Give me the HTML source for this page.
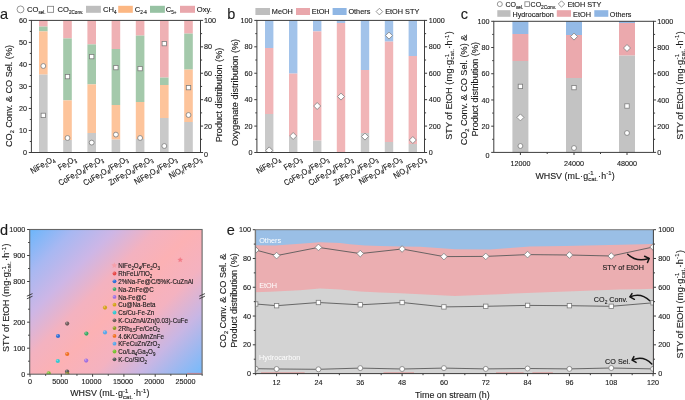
<!DOCTYPE html>
<html><head><meta charset="utf-8"><style>
html,body{margin:0;padding:0;background:#fff;width:685px;height:400px;overflow:hidden}
svg{display:block;font-family:"Liberation Sans", sans-serif;will-change:transform}
</style></head><body>
<svg width="685" height="400" viewBox="0 0 685 400">
<rect x="39.00" y="20.40" width="8.60" height="6.20" fill="#efb1b4" />
<rect x="39.00" y="26.60" width="8.60" height="4.80" fill="#a4c9ab" />
<rect x="39.00" y="31.40" width="8.60" height="43.20" fill="#fdc49b" />
<rect x="39.00" y="74.60" width="8.60" height="77.90" fill="#c9c9c9" />
<rect x="63.20" y="20.40" width="8.60" height="18.00" fill="#efb1b4" />
<rect x="63.20" y="38.40" width="8.60" height="62.00" fill="#a4c9ab" />
<rect x="63.20" y="100.40" width="8.60" height="39.60" fill="#fdc49b" />
<rect x="63.20" y="140.00" width="8.60" height="12.50" fill="#c9c9c9" />
<rect x="87.40" y="20.40" width="8.60" height="24.00" fill="#efb1b4" />
<rect x="87.40" y="44.40" width="8.60" height="40.00" fill="#a4c9ab" />
<rect x="87.40" y="84.40" width="8.60" height="48.60" fill="#fdc49b" />
<rect x="87.40" y="133.00" width="8.60" height="19.50" fill="#c9c9c9" />
<rect x="111.60" y="20.40" width="8.60" height="28.60" fill="#efb1b4" />
<rect x="111.60" y="49.00" width="8.60" height="56.00" fill="#a4c9ab" />
<rect x="111.60" y="105.00" width="8.60" height="34.60" fill="#fdc49b" />
<rect x="111.60" y="139.60" width="8.60" height="12.90" fill="#c9c9c9" />
<rect x="135.80" y="20.40" width="8.60" height="15.20" fill="#efb1b4" />
<rect x="135.80" y="35.60" width="8.60" height="66.40" fill="#a4c9ab" />
<rect x="135.80" y="102.00" width="8.60" height="37.00" fill="#fdc49b" />
<rect x="135.80" y="139.00" width="8.60" height="13.50" fill="#c9c9c9" />
<rect x="160.00" y="20.40" width="8.60" height="57.20" fill="#efb1b4" />
<rect x="160.00" y="77.60" width="8.60" height="7.40" fill="#a4c9ab" />
<rect x="160.00" y="85.00" width="8.60" height="33.00" fill="#fdc49b" />
<rect x="160.00" y="118.00" width="8.60" height="34.50" fill="#c9c9c9" />
<rect x="184.20" y="20.40" width="8.60" height="13.20" fill="#efb1b4" />
<rect x="184.20" y="33.60" width="8.60" height="36.00" fill="#a4c9ab" />
<rect x="184.20" y="69.60" width="8.60" height="52.40" fill="#fdc49b" />
<rect x="184.20" y="122.00" width="8.60" height="30.50" fill="#c9c9c9" />
<rect x="41.10" y="113.20" width="4.4" height="4.4" fill="#fff" stroke="#7c7c7c" stroke-width="0.8"/>
<circle cx="43.30" cy="66.00" r="2.45" fill="#fff" stroke="#7c7c7c" stroke-width="0.8"/>
<rect x="65.30" y="74.40" width="4.4" height="4.4" fill="#fff" stroke="#7c7c7c" stroke-width="0.8"/>
<circle cx="67.50" cy="138.00" r="2.45" fill="#fff" stroke="#7c7c7c" stroke-width="0.8"/>
<rect x="89.50" y="54.40" width="4.4" height="4.4" fill="#fff" stroke="#7c7c7c" stroke-width="0.8"/>
<circle cx="91.70" cy="142.60" r="2.45" fill="#fff" stroke="#7c7c7c" stroke-width="0.8"/>
<rect x="113.70" y="65.40" width="4.4" height="4.4" fill="#fff" stroke="#7c7c7c" stroke-width="0.8"/>
<circle cx="115.90" cy="134.60" r="2.45" fill="#fff" stroke="#7c7c7c" stroke-width="0.8"/>
<rect x="137.90" y="66.40" width="4.4" height="4.4" fill="#fff" stroke="#7c7c7c" stroke-width="0.8"/>
<circle cx="140.10" cy="138.00" r="2.45" fill="#fff" stroke="#7c7c7c" stroke-width="0.8"/>
<rect x="162.10" y="41.40" width="4.4" height="4.4" fill="#fff" stroke="#7c7c7c" stroke-width="0.8"/>
<circle cx="164.30" cy="146.00" r="2.45" fill="#fff" stroke="#7c7c7c" stroke-width="0.8"/>
<rect x="186.30" y="85.40" width="4.4" height="4.4" fill="#fff" stroke="#7c7c7c" stroke-width="0.8"/>
<circle cx="188.50" cy="115.00" r="2.45" fill="#fff" stroke="#7c7c7c" stroke-width="0.8"/>
<rect x="31.40" y="20.40" width="169.10" height="132.10" fill="none" stroke="#3d3d3d" stroke-width="1"/>
<line x1="31.40" y1="152.50" x2="28.80" y2="152.50" stroke="#3d3d3d" stroke-width="1" />
<text x="27.00" y="155.05" font-size="7.2" text-anchor="end" fill="#1c1c1c" stroke="#1c1c1c" stroke-width="0.13" >0</text>
<line x1="31.40" y1="141.49" x2="29.80" y2="141.49" stroke="#3d3d3d" stroke-width="1" />
<line x1="31.40" y1="130.48" x2="28.80" y2="130.48" stroke="#3d3d3d" stroke-width="1" />
<text x="27.00" y="133.03" font-size="7.2" text-anchor="end" fill="#1c1c1c" stroke="#1c1c1c" stroke-width="0.13" >10</text>
<line x1="31.40" y1="119.47" x2="29.80" y2="119.47" stroke="#3d3d3d" stroke-width="1" />
<line x1="31.40" y1="108.47" x2="28.80" y2="108.47" stroke="#3d3d3d" stroke-width="1" />
<text x="27.00" y="111.02" font-size="7.2" text-anchor="end" fill="#1c1c1c" stroke="#1c1c1c" stroke-width="0.13" >20</text>
<line x1="31.40" y1="97.46" x2="29.80" y2="97.46" stroke="#3d3d3d" stroke-width="1" />
<line x1="31.40" y1="86.45" x2="28.80" y2="86.45" stroke="#3d3d3d" stroke-width="1" />
<text x="27.00" y="89.00" font-size="7.2" text-anchor="end" fill="#1c1c1c" stroke="#1c1c1c" stroke-width="0.13" >30</text>
<line x1="31.40" y1="75.44" x2="29.80" y2="75.44" stroke="#3d3d3d" stroke-width="1" />
<line x1="31.40" y1="64.43" x2="28.80" y2="64.43" stroke="#3d3d3d" stroke-width="1" />
<text x="27.00" y="66.98" font-size="7.2" text-anchor="end" fill="#1c1c1c" stroke="#1c1c1c" stroke-width="0.13" >40</text>
<line x1="31.40" y1="53.42" x2="29.80" y2="53.42" stroke="#3d3d3d" stroke-width="1" />
<line x1="31.40" y1="42.42" x2="28.80" y2="42.42" stroke="#3d3d3d" stroke-width="1" />
<text x="27.00" y="44.97" font-size="7.2" text-anchor="end" fill="#1c1c1c" stroke="#1c1c1c" stroke-width="0.13" >50</text>
<line x1="31.40" y1="31.41" x2="29.80" y2="31.41" stroke="#3d3d3d" stroke-width="1" />
<line x1="31.40" y1="20.40" x2="28.80" y2="20.40" stroke="#3d3d3d" stroke-width="1" />
<text x="27.00" y="22.95" font-size="7.2" text-anchor="end" fill="#1c1c1c" stroke="#1c1c1c" stroke-width="0.13" >60</text>
<line x1="200.50" y1="152.50" x2="203.10" y2="152.50" stroke="#3d3d3d" stroke-width="1" />
<text x="204.10" y="157.45" font-size="7.2" text-anchor="start" fill="#1c1c1c" stroke="#1c1c1c" stroke-width="0.13" >0</text>
<line x1="200.50" y1="139.29" x2="202.10" y2="139.29" stroke="#3d3d3d" stroke-width="1" />
<line x1="200.50" y1="126.08" x2="203.10" y2="126.08" stroke="#3d3d3d" stroke-width="1" />
<text x="204.10" y="128.63" font-size="7.2" text-anchor="start" fill="#1c1c1c" stroke="#1c1c1c" stroke-width="0.13" >20</text>
<line x1="200.50" y1="112.87" x2="202.10" y2="112.87" stroke="#3d3d3d" stroke-width="1" />
<line x1="200.50" y1="99.66" x2="203.10" y2="99.66" stroke="#3d3d3d" stroke-width="1" />
<text x="204.10" y="102.21" font-size="7.2" text-anchor="start" fill="#1c1c1c" stroke="#1c1c1c" stroke-width="0.13" >40</text>
<line x1="200.50" y1="86.45" x2="202.10" y2="86.45" stroke="#3d3d3d" stroke-width="1" />
<line x1="200.50" y1="73.24" x2="203.10" y2="73.24" stroke="#3d3d3d" stroke-width="1" />
<text x="204.10" y="75.79" font-size="7.2" text-anchor="start" fill="#1c1c1c" stroke="#1c1c1c" stroke-width="0.13" >60</text>
<line x1="200.50" y1="60.03" x2="202.10" y2="60.03" stroke="#3d3d3d" stroke-width="1" />
<line x1="200.50" y1="46.82" x2="203.10" y2="46.82" stroke="#3d3d3d" stroke-width="1" />
<text x="204.10" y="49.37" font-size="7.2" text-anchor="start" fill="#1c1c1c" stroke="#1c1c1c" stroke-width="0.13" >80</text>
<line x1="200.50" y1="33.61" x2="202.10" y2="33.61" stroke="#3d3d3d" stroke-width="1" />
<line x1="200.50" y1="20.40" x2="203.10" y2="20.40" stroke="#3d3d3d" stroke-width="1" />
<text x="204.10" y="22.95" font-size="7.2" text-anchor="start" fill="#1c1c1c" stroke="#1c1c1c" stroke-width="0.13" >100</text>
<text transform="translate(11.55,96.0) rotate(-90) " font-size="9.1" text-anchor="middle" fill="#1c1c1c" stroke="#1c1c1c" stroke-width="0.13">CO<tspan dy="2" font-size="5.6">2</tspan><tspan dy="-2"> Conv. &amp; CO Sel. (%)</tspan></text>
<text transform="translate(222.05,95.0) rotate(-90) " font-size="9.1" text-anchor="middle" fill="#1c1c1c" stroke="#1c1c1c" stroke-width="0.13">Product distribution (%)</text>
<text transform="translate(55.10,160.6) rotate(-30.5) scale(1,1.17)" font-size="7.15" text-anchor="end" fill="#1c1c1c" stroke="#1c1c1c" stroke-width="0.13">NiFe<tspan dy="1.6" font-size="5.0">2</tspan><tspan dy="-1.6">O</tspan><tspan dy="1.6" font-size="5.0">4</tspan><tspan dy="-1.6"></tspan></text>
<text transform="translate(76.80,160.6) rotate(-30.5) scale(1,1.17)" font-size="7.15" text-anchor="end" fill="#1c1c1c" stroke="#1c1c1c" stroke-width="0.13">Fe<tspan dy="1.6" font-size="5.0">2</tspan><tspan dy="-1.6">O</tspan><tspan dy="1.6" font-size="5.0">3</tspan><tspan dy="-1.6"></tspan></text>
<text transform="translate(103.60,160.6) rotate(-30.5) scale(1,1.17)" font-size="7.15" text-anchor="end" fill="#1c1c1c" stroke="#1c1c1c" stroke-width="0.13">CoFe<tspan dy="1.6" font-size="5.0">2</tspan><tspan dy="-1.6">O</tspan><tspan dy="1.6" font-size="5.0">4</tspan><tspan dy="-1.6">/Fe</tspan><tspan dy="1.6" font-size="5.0">2</tspan><tspan dy="-1.6">O</tspan><tspan dy="1.6" font-size="5.0">3</tspan><tspan dy="-1.6"></tspan></text>
<text transform="translate(128.40,160.6) rotate(-30.5) scale(1,1.17)" font-size="7.15" text-anchor="end" fill="#1c1c1c" stroke="#1c1c1c" stroke-width="0.13">CuFe<tspan dy="1.6" font-size="5.0">2</tspan><tspan dy="-1.6">O</tspan><tspan dy="1.6" font-size="5.0">4</tspan><tspan dy="-1.6">/Fe</tspan><tspan dy="1.6" font-size="5.0">2</tspan><tspan dy="-1.6">O</tspan><tspan dy="1.6" font-size="5.0">3</tspan><tspan dy="-1.6"></tspan></text>
<text transform="translate(153.20,160.6) rotate(-30.5) scale(1,1.17)" font-size="7.15" text-anchor="end" fill="#1c1c1c" stroke="#1c1c1c" stroke-width="0.13">ZnFe<tspan dy="1.6" font-size="5.0">2</tspan><tspan dy="-1.6">O</tspan><tspan dy="1.6" font-size="5.0">4</tspan><tspan dy="-1.6">/Fe</tspan><tspan dy="1.6" font-size="5.0">2</tspan><tspan dy="-1.6">O</tspan><tspan dy="1.6" font-size="5.0">3</tspan><tspan dy="-1.6"></tspan></text>
<text transform="translate(177.40,160.6) rotate(-30.5) scale(1,1.17)" font-size="7.15" text-anchor="end" fill="#1c1c1c" stroke="#1c1c1c" stroke-width="0.13">NiFe<tspan dy="1.6" font-size="5.0">2</tspan><tspan dy="-1.6">O</tspan><tspan dy="1.6" font-size="5.0">4</tspan><tspan dy="-1.6">/Fe</tspan><tspan dy="1.6" font-size="5.0">2</tspan><tspan dy="-1.6">O</tspan><tspan dy="1.6" font-size="5.0">3</tspan><tspan dy="-1.6"></tspan></text>
<text transform="translate(202.30,160.6) rotate(-30.5) scale(1,1.17)" font-size="7.15" text-anchor="end" fill="#1c1c1c" stroke="#1c1c1c" stroke-width="0.13">NiO<tspan dy="1.6" font-size="5.0">x</tspan><tspan dy="-1.6">/Fe</tspan><tspan dy="1.6" font-size="5.0">2</tspan><tspan dy="-1.6">O</tspan><tspan dy="1.6" font-size="5.0">3</tspan><tspan dy="-1.6"></tspan></text>
<text x="0.00" y="18.60" font-size="14.5" text-anchor="start" fill="#1c1c1c" stroke="#1c1c1c" stroke-width="0.13" >a</text>
<circle cx="20.50" cy="9.40" r="3.45" fill="#fff" stroke="#7c7c7c" stroke-width="0.8"/>
<text x="27.00" y="12.30" font-size="7.6" text-anchor="start" fill="#1c1c1c" stroke="#1c1c1c" stroke-width="0.13" >CO<tspan dy="1.8" font-size="4.6">sel.</tspan><tspan dy="-1.8"></tspan></text>
<rect x="47.60" y="6.30" width="6.0" height="6.0" fill="#fff" stroke="#7c7c7c" stroke-width="0.8"/>
<text x="57.60" y="12.30" font-size="7.6" text-anchor="start" fill="#1c1c1c" stroke="#1c1c1c" stroke-width="0.13" >CO<tspan dy="1.8" font-size="4.6">2Conv.</tspan><tspan dy="-1.8"></tspan></text>
<rect x="86.00" y="5.80" width="14.90" height="7.00" fill="#bebebe" />
<text x="103.00" y="12.30" font-size="7.6" text-anchor="start" fill="#1c1c1c" stroke="#1c1c1c" stroke-width="0.13" >CH<tspan dy="1.8" font-size="4.6">4</tspan><tspan dy="-1.8"></tspan></text>
<rect x="118.20" y="5.80" width="14.60" height="7.00" fill="#fcb783" />
<text x="134.70" y="12.30" font-size="7.6" text-anchor="start" fill="#1c1c1c" stroke="#1c1c1c" stroke-width="0.13" >C<tspan dy="1.8" font-size="4.6">2-4</tspan><tspan dy="-1.8"></tspan></text>
<rect x="150.00" y="5.80" width="14.90" height="7.00" fill="#97c2a3" />
<text x="165.80" y="12.30" font-size="7.6" text-anchor="start" fill="#1c1c1c" stroke="#1c1c1c" stroke-width="0.13" >C<tspan dy="1.8" font-size="4.6">5+</tspan><tspan dy="-1.8"></tspan></text>
<rect x="180.00" y="5.80" width="15.00" height="7.00" fill="#e9a7ac" />
<text x="196.80" y="12.30" font-size="7.6" text-anchor="start" fill="#1c1c1c" stroke="#1c1c1c" stroke-width="0.13" >Oxy.</text>
<rect x="265.00" y="20.40" width="8.40" height="27.60" fill="#a2c3ea" />
<rect x="265.00" y="48.00" width="8.40" height="66.00" fill="#f1b5b7" />
<rect x="265.00" y="114.00" width="8.40" height="38.50" fill="#c9c9c9" />
<rect x="289.00" y="20.40" width="8.40" height="53.20" fill="#a2c3ea" />
<rect x="289.00" y="73.60" width="8.40" height="63.00" fill="#f1b5b7" />
<rect x="289.00" y="136.60" width="8.40" height="15.90" fill="#c9c9c9" />
<rect x="313.00" y="20.40" width="8.40" height="11.00" fill="#a2c3ea" />
<rect x="313.00" y="31.40" width="8.40" height="109.20" fill="#f1b5b7" />
<rect x="313.00" y="140.60" width="8.40" height="11.90" fill="#c9c9c9" />
<rect x="336.80" y="20.40" width="8.40" height="2.60" fill="#a2c3ea" />
<rect x="336.80" y="23.00" width="8.40" height="129.50" fill="#f1b5b7" />
<rect x="360.80" y="20.40" width="8.40" height="49.60" fill="#a2c3ea" />
<rect x="360.80" y="70.00" width="8.40" height="63.00" fill="#f1b5b7" />
<rect x="360.80" y="133.00" width="8.40" height="19.50" fill="#c9c9c9" />
<rect x="384.80" y="20.40" width="8.40" height="21.20" fill="#a2c3ea" />
<rect x="384.80" y="41.60" width="8.40" height="100.40" fill="#f1b5b7" />
<rect x="384.80" y="142.00" width="8.40" height="10.50" fill="#c9c9c9" />
<rect x="408.60" y="20.40" width="8.40" height="35.60" fill="#a2c3ea" />
<rect x="408.60" y="56.00" width="8.40" height="88.00" fill="#f1b5b7" />
<rect x="408.60" y="144.00" width="8.40" height="8.50" fill="#c9c9c9" />
<clipPath id="cb"><rect x="256.9" y="20.4" width="167.60000000000002" height="132.1"/></clipPath><g clip-path="url(#cb)">
<path d="M269.20 146.90L272.70 150.40L269.20 153.90L265.70 150.40Z" fill="#fff" stroke="#7c7c7c" stroke-width="0.8"/>
<path d="M293.20 132.50L296.70 136.00L293.20 139.50L289.70 136.00Z" fill="#fff" stroke="#7c7c7c" stroke-width="0.8"/>
<path d="M317.20 102.50L320.70 106.00L317.20 109.50L313.70 106.00Z" fill="#fff" stroke="#7c7c7c" stroke-width="0.8"/>
<path d="M341.00 93.10L344.50 96.60L341.00 100.10L337.50 96.60Z" fill="#fff" stroke="#7c7c7c" stroke-width="0.8"/>
<path d="M365.00 133.10L368.50 136.60L365.00 140.10L361.50 136.60Z" fill="#fff" stroke="#7c7c7c" stroke-width="0.8"/>
<path d="M389.00 32.10L392.50 35.60L389.00 39.10L385.50 35.60Z" fill="#fff" stroke="#7c7c7c" stroke-width="0.8"/>
<path d="M412.80 136.50L416.30 140.00L412.80 143.50L409.30 140.00Z" fill="#fff" stroke="#7c7c7c" stroke-width="0.8"/>
</g>
<rect x="256.90" y="20.40" width="167.60" height="132.10" fill="none" stroke="#3d3d3d" stroke-width="1"/>
<line x1="256.90" y1="152.50" x2="254.30" y2="152.50" stroke="#3d3d3d" stroke-width="1" />
<text x="252.50" y="155.05" font-size="7.2" text-anchor="end" fill="#1c1c1c" stroke="#1c1c1c" stroke-width="0.13" >0</text>
<line x1="256.90" y1="139.29" x2="255.30" y2="139.29" stroke="#3d3d3d" stroke-width="1" />
<line x1="256.90" y1="126.08" x2="254.30" y2="126.08" stroke="#3d3d3d" stroke-width="1" />
<text x="252.50" y="128.63" font-size="7.2" text-anchor="end" fill="#1c1c1c" stroke="#1c1c1c" stroke-width="0.13" >20</text>
<line x1="256.90" y1="112.87" x2="255.30" y2="112.87" stroke="#3d3d3d" stroke-width="1" />
<line x1="256.90" y1="99.66" x2="254.30" y2="99.66" stroke="#3d3d3d" stroke-width="1" />
<text x="252.50" y="102.21" font-size="7.2" text-anchor="end" fill="#1c1c1c" stroke="#1c1c1c" stroke-width="0.13" >40</text>
<line x1="256.90" y1="86.45" x2="255.30" y2="86.45" stroke="#3d3d3d" stroke-width="1" />
<line x1="256.90" y1="73.24" x2="254.30" y2="73.24" stroke="#3d3d3d" stroke-width="1" />
<text x="252.50" y="75.79" font-size="7.2" text-anchor="end" fill="#1c1c1c" stroke="#1c1c1c" stroke-width="0.13" >60</text>
<line x1="256.90" y1="60.03" x2="255.30" y2="60.03" stroke="#3d3d3d" stroke-width="1" />
<line x1="256.90" y1="46.82" x2="254.30" y2="46.82" stroke="#3d3d3d" stroke-width="1" />
<text x="252.50" y="49.37" font-size="7.2" text-anchor="end" fill="#1c1c1c" stroke="#1c1c1c" stroke-width="0.13" >80</text>
<line x1="256.90" y1="33.61" x2="255.30" y2="33.61" stroke="#3d3d3d" stroke-width="1" />
<line x1="256.90" y1="20.40" x2="254.30" y2="20.40" stroke="#3d3d3d" stroke-width="1" />
<text x="252.50" y="22.95" font-size="7.2" text-anchor="end" fill="#1c1c1c" stroke="#1c1c1c" stroke-width="0.13" >100</text>
<line x1="424.50" y1="152.50" x2="427.10" y2="152.50" stroke="#3d3d3d" stroke-width="1" />
<text x="428.70" y="155.05" font-size="7.2" text-anchor="start" fill="#1c1c1c" stroke="#1c1c1c" stroke-width="0.13" >0</text>
<line x1="424.50" y1="139.29" x2="426.10" y2="139.29" stroke="#3d3d3d" stroke-width="1" />
<line x1="424.50" y1="126.08" x2="427.10" y2="126.08" stroke="#3d3d3d" stroke-width="1" />
<text x="428.70" y="128.63" font-size="7.2" text-anchor="start" fill="#1c1c1c" stroke="#1c1c1c" stroke-width="0.13" >200</text>
<line x1="424.50" y1="112.87" x2="426.10" y2="112.87" stroke="#3d3d3d" stroke-width="1" />
<line x1="424.50" y1="99.66" x2="427.10" y2="99.66" stroke="#3d3d3d" stroke-width="1" />
<text x="428.70" y="102.21" font-size="7.2" text-anchor="start" fill="#1c1c1c" stroke="#1c1c1c" stroke-width="0.13" >400</text>
<line x1="424.50" y1="86.45" x2="426.10" y2="86.45" stroke="#3d3d3d" stroke-width="1" />
<line x1="424.50" y1="73.24" x2="427.10" y2="73.24" stroke="#3d3d3d" stroke-width="1" />
<text x="428.70" y="75.79" font-size="7.2" text-anchor="start" fill="#1c1c1c" stroke="#1c1c1c" stroke-width="0.13" >600</text>
<line x1="424.50" y1="60.03" x2="426.10" y2="60.03" stroke="#3d3d3d" stroke-width="1" />
<line x1="424.50" y1="46.82" x2="427.10" y2="46.82" stroke="#3d3d3d" stroke-width="1" />
<text x="428.70" y="49.37" font-size="7.2" text-anchor="start" fill="#1c1c1c" stroke="#1c1c1c" stroke-width="0.13" >800</text>
<line x1="424.50" y1="33.61" x2="426.10" y2="33.61" stroke="#3d3d3d" stroke-width="1" />
<line x1="424.50" y1="20.40" x2="427.10" y2="20.40" stroke="#3d3d3d" stroke-width="1" />
<text x="428.70" y="22.95" font-size="7.2" text-anchor="start" fill="#1c1c1c" stroke="#1c1c1c" stroke-width="0.13" >1000</text>
<text transform="translate(237.8,92.5) rotate(-90) " font-size="9.1" text-anchor="middle" fill="#1c1c1c" stroke="#1c1c1c" stroke-width="0.13">Oxygenate distribution (%)</text>
<text transform="translate(452.1,85.5) rotate(-90) " font-size="9.1" text-anchor="middle" fill="#1c1c1c" stroke="#1c1c1c" stroke-width="0.13">STY of EtOH <tspan letter-spacing="0.3">(mg·g</tspan><tspan letter-spacing="0.3" dy="-3.4" font-size="5.9">-1</tspan><tspan letter-spacing="0.3" dx="-5.85" dy="5.6" font-size="5.9">cat.</tspan><tspan letter-spacing="0.3" dy="-2.2" font-size="9.1">·h</tspan><tspan letter-spacing="0.3" dy="-3.4" font-size="5.9">-1</tspan><tspan dy="3.4" font-size="9.1">)</tspan></text>
<text transform="translate(281.00,160.6) rotate(-30.5) scale(1,1.17)" font-size="7.15" text-anchor="end" fill="#1c1c1c" stroke="#1c1c1c" stroke-width="0.13">NiFe<tspan dy="1.6" font-size="5.0">2</tspan><tspan dy="-1.6">O</tspan><tspan dy="1.6" font-size="5.0">4</tspan><tspan dy="-1.6"></tspan></text>
<text transform="translate(302.50,160.6) rotate(-30.5) scale(1,1.17)" font-size="7.15" text-anchor="end" fill="#1c1c1c" stroke="#1c1c1c" stroke-width="0.13">Fe<tspan dy="1.6" font-size="5.0">2</tspan><tspan dy="-1.6">O</tspan><tspan dy="1.6" font-size="5.0">3</tspan><tspan dy="-1.6"></tspan></text>
<text transform="translate(329.10,160.6) rotate(-30.5) scale(1,1.17)" font-size="7.15" text-anchor="end" fill="#1c1c1c" stroke="#1c1c1c" stroke-width="0.13">CoFe<tspan dy="1.6" font-size="5.0">2</tspan><tspan dy="-1.6">O</tspan><tspan dy="1.6" font-size="5.0">4</tspan><tspan dy="-1.6">/Fe</tspan><tspan dy="1.6" font-size="5.0">2</tspan><tspan dy="-1.6">O</tspan><tspan dy="1.6" font-size="5.0">3</tspan><tspan dy="-1.6"></tspan></text>
<text transform="translate(353.50,160.6) rotate(-30.5) scale(1,1.17)" font-size="7.15" text-anchor="end" fill="#1c1c1c" stroke="#1c1c1c" stroke-width="0.13">CuFe<tspan dy="1.6" font-size="5.0">2</tspan><tspan dy="-1.6">O</tspan><tspan dy="1.6" font-size="5.0">4</tspan><tspan dy="-1.6">/Fe</tspan><tspan dy="1.6" font-size="5.0">2</tspan><tspan dy="-1.6">O</tspan><tspan dy="1.6" font-size="5.0">3</tspan><tspan dy="-1.6"></tspan></text>
<text transform="translate(378.10,160.6) rotate(-30.5) scale(1,1.17)" font-size="7.15" text-anchor="end" fill="#1c1c1c" stroke="#1c1c1c" stroke-width="0.13">ZnFe<tspan dy="1.6" font-size="5.0">2</tspan><tspan dy="-1.6">O</tspan><tspan dy="1.6" font-size="5.0">4</tspan><tspan dy="-1.6">/Fe</tspan><tspan dy="1.6" font-size="5.0">2</tspan><tspan dy="-1.6">O</tspan><tspan dy="1.6" font-size="5.0">3</tspan><tspan dy="-1.6"></tspan></text>
<text transform="translate(402.10,160.6) rotate(-30.5) scale(1,1.17)" font-size="7.15" text-anchor="end" fill="#1c1c1c" stroke="#1c1c1c" stroke-width="0.13">NiFe<tspan dy="1.6" font-size="5.0">2</tspan><tspan dy="-1.6">O</tspan><tspan dy="1.6" font-size="5.0">4</tspan><tspan dy="-1.6">/Fe</tspan><tspan dy="1.6" font-size="5.0">2</tspan><tspan dy="-1.6">O</tspan><tspan dy="1.6" font-size="5.0">3</tspan><tspan dy="-1.6"></tspan></text>
<text transform="translate(426.60,160.6) rotate(-30.5) scale(1,1.17)" font-size="7.15" text-anchor="end" fill="#1c1c1c" stroke="#1c1c1c" stroke-width="0.13">NiO<tspan dy="1.6" font-size="5.0">x</tspan><tspan dy="-1.6">/Fe</tspan><tspan dy="1.6" font-size="5.0">2</tspan><tspan dy="-1.6">O</tspan><tspan dy="1.6" font-size="5.0">3</tspan><tspan dy="-1.6"></tspan></text>
<text x="227.30" y="18.60" font-size="14.5" text-anchor="start" fill="#1c1c1c" stroke="#1c1c1c" stroke-width="0.13" >b</text>
<rect x="255.40" y="8.00" width="14.60" height="7.00" fill="#bebebe" />
<text x="271.80" y="14.20" font-size="7.3" text-anchor="start" fill="#1c1c1c" stroke="#1c1c1c" stroke-width="0.13" >MeOH</text>
<rect x="296.00" y="8.00" width="14.00" height="7.00" fill="#e9a7ac" />
<text x="311.80" y="14.20" font-size="7.3" text-anchor="start" fill="#1c1c1c" stroke="#1c1c1c" stroke-width="0.13" >EtOH</text>
<rect x="332.60" y="8.00" width="14.00" height="7.00" fill="#8fb6e4" />
<text x="348.40" y="14.20" font-size="7.3" text-anchor="start" fill="#1c1c1c" stroke="#1c1c1c" stroke-width="0.13" >Others</text>
<path d="M379.40 8.30L382.70 11.60L379.40 14.90L376.10 11.60Z" fill="#fff" stroke="#7c7c7c" stroke-width="0.8"/>
<text x="385.20" y="14.20" font-size="7.3" text-anchor="start" fill="#1c1c1c" stroke="#1c1c1c" stroke-width="0.13" >EtOH STY</text>
<rect x="512.40" y="21.30" width="16.00" height="12.70" fill="#94bae6" />
<rect x="512.40" y="34.00" width="16.00" height="27.00" fill="#eba9ad" />
<rect x="512.40" y="61.00" width="16.00" height="91.40" fill="#c3c3c3" />
<rect x="566.00" y="21.30" width="16.00" height="13.70" fill="#94bae6" />
<rect x="566.00" y="35.00" width="16.00" height="43.00" fill="#eba9ad" />
<rect x="566.00" y="78.00" width="16.00" height="74.40" fill="#c3c3c3" />
<rect x="619.00" y="21.30" width="16.00" height="1.70" fill="#94bae6" />
<rect x="619.00" y="23.00" width="16.00" height="32.60" fill="#eba9ad" />
<rect x="619.00" y="55.60" width="16.00" height="96.80" fill="#c3c3c3" />
<rect x="518.20" y="84.20" width="4.4" height="4.4" fill="#fff" stroke="#7c7c7c" stroke-width="0.8"/>
<path d="M520.40 113.90L523.90 117.40L520.40 120.90L516.90 117.40Z" fill="#fff" stroke="#7c7c7c" stroke-width="0.8"/>
<circle cx="520.40" cy="146.00" r="2.45" fill="#fff" stroke="#7c7c7c" stroke-width="0.8"/>
<rect x="571.80" y="85.40" width="4.4" height="4.4" fill="#fff" stroke="#7c7c7c" stroke-width="0.8"/>
<path d="M574.00 33.10L577.50 36.60L574.00 40.10L570.50 36.60Z" fill="#fff" stroke="#7c7c7c" stroke-width="0.8"/>
<circle cx="574.00" cy="148.00" r="2.45" fill="#fff" stroke="#7c7c7c" stroke-width="0.8"/>
<rect x="624.80" y="103.80" width="4.4" height="4.4" fill="#fff" stroke="#7c7c7c" stroke-width="0.8"/>
<path d="M627.00 44.50L630.50 48.00L627.00 51.50L623.50 48.00Z" fill="#fff" stroke="#7c7c7c" stroke-width="0.8"/>
<circle cx="627.00" cy="133.00" r="2.45" fill="#fff" stroke="#7c7c7c" stroke-width="0.8"/>
<rect x="493.80" y="21.30" width="159.70" height="131.10" fill="none" stroke="#3d3d3d" stroke-width="1"/>
<line x1="493.80" y1="152.40" x2="491.20" y2="152.40" stroke="#3d3d3d" stroke-width="1" />
<text x="489.40" y="158.35" font-size="7.2" text-anchor="end" fill="#1c1c1c" stroke="#1c1c1c" stroke-width="0.13" >0</text>
<line x1="493.80" y1="139.29" x2="492.20" y2="139.29" stroke="#3d3d3d" stroke-width="1" />
<line x1="493.80" y1="126.18" x2="491.20" y2="126.18" stroke="#3d3d3d" stroke-width="1" />
<text x="489.40" y="128.73" font-size="7.2" text-anchor="end" fill="#1c1c1c" stroke="#1c1c1c" stroke-width="0.13" >20</text>
<line x1="493.80" y1="113.07" x2="492.20" y2="113.07" stroke="#3d3d3d" stroke-width="1" />
<line x1="493.80" y1="99.96" x2="491.20" y2="99.96" stroke="#3d3d3d" stroke-width="1" />
<text x="489.40" y="102.51" font-size="7.2" text-anchor="end" fill="#1c1c1c" stroke="#1c1c1c" stroke-width="0.13" >40</text>
<line x1="493.80" y1="86.85" x2="492.20" y2="86.85" stroke="#3d3d3d" stroke-width="1" />
<line x1="493.80" y1="73.74" x2="491.20" y2="73.74" stroke="#3d3d3d" stroke-width="1" />
<text x="489.40" y="76.29" font-size="7.2" text-anchor="end" fill="#1c1c1c" stroke="#1c1c1c" stroke-width="0.13" >60</text>
<line x1="493.80" y1="60.63" x2="492.20" y2="60.63" stroke="#3d3d3d" stroke-width="1" />
<line x1="493.80" y1="47.52" x2="491.20" y2="47.52" stroke="#3d3d3d" stroke-width="1" />
<text x="489.40" y="50.07" font-size="7.2" text-anchor="end" fill="#1c1c1c" stroke="#1c1c1c" stroke-width="0.13" >80</text>
<line x1="493.80" y1="34.41" x2="492.20" y2="34.41" stroke="#3d3d3d" stroke-width="1" />
<line x1="493.80" y1="21.30" x2="491.20" y2="21.30" stroke="#3d3d3d" stroke-width="1" />
<text x="489.40" y="23.85" font-size="7.2" text-anchor="end" fill="#1c1c1c" stroke="#1c1c1c" stroke-width="0.13" >100</text>
<line x1="653.50" y1="152.40" x2="656.10" y2="152.40" stroke="#3d3d3d" stroke-width="1" />
<text x="657.30" y="154.95" font-size="7.2" text-anchor="start" fill="#1c1c1c" stroke="#1c1c1c" stroke-width="0.13" >0</text>
<line x1="653.50" y1="139.29" x2="655.10" y2="139.29" stroke="#3d3d3d" stroke-width="1" />
<line x1="653.50" y1="126.18" x2="656.10" y2="126.18" stroke="#3d3d3d" stroke-width="1" />
<text x="657.30" y="128.73" font-size="7.2" text-anchor="start" fill="#1c1c1c" stroke="#1c1c1c" stroke-width="0.13" >200</text>
<line x1="653.50" y1="113.07" x2="655.10" y2="113.07" stroke="#3d3d3d" stroke-width="1" />
<line x1="653.50" y1="99.96" x2="656.10" y2="99.96" stroke="#3d3d3d" stroke-width="1" />
<text x="657.30" y="102.51" font-size="7.2" text-anchor="start" fill="#1c1c1c" stroke="#1c1c1c" stroke-width="0.13" >400</text>
<line x1="653.50" y1="86.85" x2="655.10" y2="86.85" stroke="#3d3d3d" stroke-width="1" />
<line x1="653.50" y1="73.74" x2="656.10" y2="73.74" stroke="#3d3d3d" stroke-width="1" />
<text x="657.30" y="76.29" font-size="7.2" text-anchor="start" fill="#1c1c1c" stroke="#1c1c1c" stroke-width="0.13" >600</text>
<line x1="653.50" y1="60.63" x2="655.10" y2="60.63" stroke="#3d3d3d" stroke-width="1" />
<line x1="653.50" y1="47.52" x2="656.10" y2="47.52" stroke="#3d3d3d" stroke-width="1" />
<text x="657.30" y="50.07" font-size="7.2" text-anchor="start" fill="#1c1c1c" stroke="#1c1c1c" stroke-width="0.13" >800</text>
<line x1="653.50" y1="34.41" x2="655.10" y2="34.41" stroke="#3d3d3d" stroke-width="1" />
<line x1="653.50" y1="21.30" x2="656.10" y2="21.30" stroke="#3d3d3d" stroke-width="1" />
<text x="657.30" y="23.85" font-size="7.2" text-anchor="start" fill="#1c1c1c" stroke="#1c1c1c" stroke-width="0.13" >1000</text>
<line x1="520.40" y1="152.40" x2="520.40" y2="155.00" stroke="#3d3d3d" stroke-width="1" />
<line x1="574.00" y1="152.40" x2="574.00" y2="155.00" stroke="#3d3d3d" stroke-width="1" />
<line x1="627.00" y1="152.40" x2="627.00" y2="155.00" stroke="#3d3d3d" stroke-width="1" />
<line x1="547.20" y1="152.40" x2="547.20" y2="154.00" stroke="#3d3d3d" stroke-width="1" />
<line x1="600.50" y1="152.40" x2="600.50" y2="154.00" stroke="#3d3d3d" stroke-width="1" />
<text x="520.40" y="166.30" font-size="7.2" text-anchor="middle" fill="#1c1c1c" stroke="#1c1c1c" stroke-width="0.13" >12000</text>
<text x="574.00" y="166.30" font-size="7.2" text-anchor="middle" fill="#1c1c1c" stroke="#1c1c1c" stroke-width="0.13" >24000</text>
<text x="627.00" y="166.30" font-size="7.2" text-anchor="middle" fill="#1c1c1c" stroke="#1c1c1c" stroke-width="0.13" >48000</text>
<text transform="translate(575,178.8) " font-size="8.9" text-anchor="middle" fill="#1c1c1c" stroke="#1c1c1c" stroke-width="0.13">WHSV <tspan letter-spacing="0.1">(mL·g</tspan><tspan letter-spacing="0.1" dy="-3.4" font-size="5.9">-1</tspan><tspan letter-spacing="0.1" dx="-5.45" dy="5.6" font-size="5.9">cat.</tspan><tspan letter-spacing="0.1" dy="-2.2" font-size="8.9">·h</tspan><tspan letter-spacing="0.1" dy="-3.4" font-size="5.9">-1</tspan><tspan dy="3.4" font-size="8.9">)</tspan></text>
<text transform="translate(467.0,90.0) rotate(-90) " font-size="9.1" text-anchor="middle" fill="#1c1c1c" stroke="#1c1c1c" stroke-width="0.13">CO<tspan dy="2" font-size="5.6">2</tspan><tspan dy="-2"> Conv. &amp; CO Sel. (%)</tspan> &amp;</text>
<text transform="translate(478.0,89.2) rotate(-90) " font-size="9.1" text-anchor="middle" fill="#1c1c1c" stroke="#1c1c1c" stroke-width="0.13">Product distribution (%)</text>
<text transform="translate(682.8,85.5) rotate(-90) " font-size="9.1" text-anchor="middle" fill="#1c1c1c" stroke="#1c1c1c" stroke-width="0.13">STY of EtOH <tspan letter-spacing="0.3">(mg·g</tspan><tspan letter-spacing="0.3" dy="-3.4" font-size="5.9">-1</tspan><tspan letter-spacing="0.3" dx="-5.85" dy="5.6" font-size="5.9">cat.</tspan><tspan letter-spacing="0.3" dy="-2.2" font-size="9.1">·h</tspan><tspan letter-spacing="0.3" dy="-3.4" font-size="5.9">-1</tspan><tspan dy="3.4" font-size="9.1">)</tspan></text>
<text x="460.80" y="18.90" font-size="14.5" text-anchor="start" fill="#1c1c1c" stroke="#1c1c1c" stroke-width="0.13" >c</text>
<circle cx="499.80" cy="4.10" r="2.5" fill="#fff" stroke="#7c7c7c" stroke-width="0.8"/>
<text x="505.40" y="6.90" font-size="7.0" text-anchor="start" fill="#1c1c1c" stroke="#1c1c1c" stroke-width="0.13" >CO<tspan dy="1.9" font-size="4.7">sel.</tspan><tspan dy="-1.9"></tspan></text>
<rect x="524.90" y="1.80" width="4.6" height="4.6" fill="#fff" stroke="#7c7c7c" stroke-width="0.8"/>
<text x="530.60" y="6.90" font-size="7.0" text-anchor="start" fill="#1c1c1c" stroke="#1c1c1c" stroke-width="0.13" >CO<tspan dy="1.9" font-size="4.9">2Conv.</tspan><tspan dy="-1.9"></tspan></text>
<path d="M561.50 0.80L564.70 4.00L561.50 7.20L558.30 4.00Z" fill="#fff" stroke="#7c7c7c" stroke-width="0.8"/>
<text x="567.40" y="6.90" font-size="7.3" text-anchor="start" fill="#1c1c1c" stroke="#1c1c1c" stroke-width="0.13" >EtOH STY</text>
<rect x="497.30" y="10.20" width="13.20" height="6.60" fill="#bebebe" />
<text x="512.50" y="16.80" font-size="7.2" text-anchor="start" fill="#1c1c1c" stroke="#1c1c1c" stroke-width="0.13" >Hydrocarbon</text>
<rect x="556.80" y="10.20" width="14.20" height="6.60" fill="#e9a7ac" />
<text x="573.10" y="16.80" font-size="7.3" text-anchor="start" fill="#1c1c1c" stroke="#1c1c1c" stroke-width="0.13" >EtOH</text>
<rect x="594.30" y="10.20" width="14.00" height="6.60" fill="#8fb6e4" />
<text x="609.80" y="16.80" font-size="7.2" text-anchor="start" fill="#1c1c1c" stroke="#1c1c1c" stroke-width="0.13" >Others</text>
<defs><linearGradient id="gd" gradientUnits="userSpaceOnUse" x1="29.7" y1="229.5" x2="188.25" y2="388.05"><stop offset="0" stop-color="#6cb6fb"/><stop offset="0.14" stop-color="#a8b8f2"/><stop offset="0.27" stop-color="#cdb6e6"/><stop offset="0.40" stop-color="#f3b2c0"/><stop offset="0.52" stop-color="#fcb1b4"/><stop offset="0.66" stop-color="#f4b2c0"/><stop offset="0.8" stop-color="#c8b6e4"/><stop offset="1" stop-color="#74bafb"/></linearGradient></defs>
<rect x="29.70" y="229.50" width="172.40" height="144.70" fill="url(#gd)" />
<clipPath id="cd"><rect x="29.7" y="229.5" width="172.4" height="144.7"/></clipPath><g clip-path="url(#cd)">
<circle cx="67.20" cy="323.60" r="2.1" fill="#6e5a5a"/>
<circle cx="66.60" cy="322.90" r="0.88" fill="#fff" opacity="0.35"/>
<circle cx="58.00" cy="336.00" r="2.1" fill="#2f6fd6"/>
<circle cx="57.40" cy="335.30" r="0.88" fill="#fff" opacity="0.35"/>
<circle cx="86.40" cy="333.60" r="2.1" fill="#3aaa64"/>
<circle cx="85.80" cy="332.90" r="0.88" fill="#fff" opacity="0.35"/>
<circle cx="105.00" cy="307.60" r="2.1" fill="#d4a21a"/>
<circle cx="104.40" cy="306.90" r="0.88" fill="#fff" opacity="0.35"/>
<circle cx="105.00" cy="332.40" r="2.1" fill="#5aa6e8"/>
<circle cx="104.40" cy="331.70" r="0.88" fill="#fff" opacity="0.35"/>
<circle cx="67.20" cy="354.00" r="2.1" fill="#f07020"/>
<circle cx="66.60" cy="353.30" r="0.88" fill="#fff" opacity="0.35"/>
<circle cx="57.80" cy="361.00" r="2.1" fill="#36c6d0"/>
<circle cx="57.20" cy="360.30" r="0.88" fill="#fff" opacity="0.35"/>
<circle cx="86.20" cy="360.60" r="2.1" fill="#a070e0"/>
<circle cx="85.60" cy="359.90" r="0.88" fill="#fff" opacity="0.35"/>
<circle cx="48.70" cy="373.30" r="2.1" fill="#78c030"/>
<circle cx="48.10" cy="372.60" r="0.88" fill="#fff" opacity="0.35"/>
<circle cx="67.10" cy="371.50" r="2.1" fill="#555555"/>
<circle cx="66.50" cy="370.80" r="0.88" fill="#fff" opacity="0.35"/>
<circle cx="67.40" cy="374.00" r="2.1" fill="#8a8a20"/>
<circle cx="66.80" cy="373.30" r="0.88" fill="#fff" opacity="0.35"/>
</g>
<polygon points="180.20,256.90 180.99,258.81 183.05,258.97 181.48,260.32 181.96,262.33 180.20,261.25 178.44,262.33 178.92,260.32 177.35,258.97 179.41,258.81" fill="#f27c88"/>
<polygon points="114.40,262.30 115.25,264.34 117.44,264.51 115.77,265.94 116.28,268.09 114.40,266.94 112.52,268.09 113.03,265.94 111.36,264.51 113.55,264.34" fill="#f5a0aa"/>
<text transform="translate(118.2,268.30) scale(1,1.12)" font-size="6.25" fill="#1c1c1c" stroke="#1c1c1c" stroke-width="0.13">NiFe<tspan dy="1.6" font-size="4.4">2</tspan><tspan dy="-1.6">O</tspan><tspan dy="1.6" font-size="4.4">4</tspan><tspan dy="-1.6">/Fe</tspan><tspan dy="1.6" font-size="4.4">2</tspan><tspan dy="-1.6">O</tspan><tspan dy="1.6" font-size="4.4">3</tspan><tspan dy="-1.6"></tspan></text>
<circle cx="114.50" cy="273.50" r="1.9" fill="#e84848"/>
<circle cx="113.90" cy="272.80" r="0.80" fill="#fff" opacity="0.35"/>
<text transform="translate(118.2,276.10) scale(1,1.12)" font-size="6.25" fill="#1c1c1c" stroke="#1c1c1c" stroke-width="0.13">RhFeLi/TiO<tspan dy="1.6" font-size="4.4">2</tspan><tspan dy="-1.6"></tspan></text>
<circle cx="114.50" cy="281.30" r="1.9" fill="#2f6fd6"/>
<circle cx="113.90" cy="280.60" r="0.80" fill="#fff" opacity="0.35"/>
<text transform="translate(118.2,283.90) scale(1,1.12)" font-size="6.25" fill="#1c1c1c" stroke="#1c1c1c" stroke-width="0.13">2%Na-Fe@C/5%K-CuZnAl</text>
<circle cx="114.50" cy="289.10" r="1.9" fill="#3aaa64"/>
<circle cx="113.90" cy="288.40" r="0.80" fill="#fff" opacity="0.35"/>
<text transform="translate(118.2,291.70) scale(1,1.12)" font-size="6.25" fill="#1c1c1c" stroke="#1c1c1c" stroke-width="0.13">Na-ZnFe@C</text>
<circle cx="114.50" cy="296.90" r="1.9" fill="#a070e0"/>
<circle cx="113.90" cy="296.20" r="0.80" fill="#fff" opacity="0.35"/>
<text transform="translate(118.2,299.50) scale(1,1.12)" font-size="6.25" fill="#1c1c1c" stroke="#1c1c1c" stroke-width="0.13">Na-Fe@C</text>
<circle cx="114.50" cy="304.70" r="1.9" fill="#d4a21a"/>
<circle cx="113.90" cy="304.00" r="0.80" fill="#fff" opacity="0.35"/>
<text transform="translate(118.2,307.30) scale(1,1.12)" font-size="6.25" fill="#1c1c1c" stroke="#1c1c1c" stroke-width="0.13">Cu@Na-Beta</text>
<circle cx="114.50" cy="312.50" r="1.9" fill="#36c6d0"/>
<circle cx="113.90" cy="311.80" r="0.80" fill="#fff" opacity="0.35"/>
<text transform="translate(118.2,315.10) scale(1,1.12)" font-size="6.25" fill="#1c1c1c" stroke="#1c1c1c" stroke-width="0.13">Cs/Cu-Fe-Zn</text>
<circle cx="114.50" cy="320.30" r="1.9" fill="#6e5a5a"/>
<circle cx="113.90" cy="319.60" r="0.80" fill="#fff" opacity="0.35"/>
<text transform="translate(118.2,322.90) scale(1,1.12)" font-size="6.25" fill="#1c1c1c" stroke="#1c1c1c" stroke-width="0.13">K-CuZnAl/Zn(0.03)-CuFe</text>
<circle cx="114.50" cy="328.10" r="1.9" fill="#8a9a20"/>
<circle cx="113.90" cy="327.40" r="0.80" fill="#fff" opacity="0.35"/>
<text transform="translate(118.2,330.70) scale(1,1.12)" font-size="6.25" fill="#1c1c1c" stroke="#1c1c1c" stroke-width="0.13">2Rh<tspan dy="1.6" font-size="4.4">0.5</tspan><tspan dy="-1.6">Fe/CeO</tspan><tspan dy="1.6" font-size="4.4">2</tspan><tspan dy="-1.6"></tspan></text>
<circle cx="114.50" cy="335.90" r="1.9" fill="#f07020"/>
<circle cx="113.90" cy="335.20" r="0.80" fill="#fff" opacity="0.35"/>
<text transform="translate(118.2,338.50) scale(1,1.12)" font-size="6.25" fill="#1c1c1c" stroke="#1c1c1c" stroke-width="0.13">4.6K/CuMnZnFe</text>
<circle cx="114.50" cy="343.70" r="1.9" fill="#5aa6e8"/>
<circle cx="113.90" cy="343.00" r="0.80" fill="#fff" opacity="0.35"/>
<text transform="translate(118.2,346.30) scale(1,1.12)" font-size="6.25" fill="#1c1c1c" stroke="#1c1c1c" stroke-width="0.13">KFeCuZn/ZrO<tspan dy="1.6" font-size="4.4">2</tspan><tspan dy="-1.6"></tspan></text>
<circle cx="114.50" cy="351.50" r="1.9" fill="#78c030"/>
<circle cx="113.90" cy="350.80" r="0.80" fill="#fff" opacity="0.35"/>
<text transform="translate(118.2,354.10) scale(1,1.12)" font-size="6.25" fill="#1c1c1c" stroke="#1c1c1c" stroke-width="0.13">Co/La<tspan dy="1.6" font-size="4.4">4</tspan><tspan dy="-1.6">Ga</tspan><tspan dy="1.6" font-size="4.4">2</tspan><tspan dy="-1.6">O</tspan><tspan dy="1.6" font-size="4.4">9</tspan><tspan dy="-1.6"></tspan></text>
<circle cx="114.50" cy="359.30" r="1.9" fill="#555555"/>
<circle cx="113.90" cy="358.60" r="0.80" fill="#fff" opacity="0.35"/>
<text transform="translate(118.2,361.90) scale(1,1.12)" font-size="6.25" fill="#1c1c1c" stroke="#1c1c1c" stroke-width="0.13">K-Co/SiO<tspan dy="1.6" font-size="4.4">2</tspan><tspan dy="-1.6"></tspan></text>
<line x1="187.00" y1="373.40" x2="202.10" y2="373.40" stroke="#f08898" stroke-width="0.9" />
<rect x="29.70" y="229.50" width="172.40" height="144.70" fill="none" stroke="#666" stroke-width="1.1"/>
<line x1="29.70" y1="281.50" x2="27.10" y2="281.50" stroke="#3d3d3d" stroke-width="1" />
<text x="25.30" y="284.05" font-size="7.2" text-anchor="end" fill="#1c1c1c" stroke="#1c1c1c" stroke-width="0.13" >800</text>
<line x1="29.70" y1="268.50" x2="28.10" y2="268.50" stroke="#3d3d3d" stroke-width="1" />
<line x1="29.70" y1="255.50" x2="27.10" y2="255.50" stroke="#3d3d3d" stroke-width="1" />
<text x="25.30" y="258.05" font-size="7.2" text-anchor="end" fill="#1c1c1c" stroke="#1c1c1c" stroke-width="0.13" >900</text>
<line x1="29.70" y1="242.50" x2="28.10" y2="242.50" stroke="#3d3d3d" stroke-width="1" />
<line x1="29.70" y1="229.50" x2="27.10" y2="229.50" stroke="#3d3d3d" stroke-width="1" />
<text x="25.30" y="232.05" font-size="7.2" text-anchor="end" fill="#1c1c1c" stroke="#1c1c1c" stroke-width="0.13" >1000</text>
<line x1="29.70" y1="374.20" x2="27.10" y2="374.20" stroke="#3d3d3d" stroke-width="1" />
<text x="25.30" y="376.75" font-size="7.2" text-anchor="end" fill="#1c1c1c" stroke="#1c1c1c" stroke-width="0.13" >0</text>
<line x1="29.70" y1="361.20" x2="28.10" y2="361.20" stroke="#3d3d3d" stroke-width="1" />
<line x1="29.70" y1="348.20" x2="27.10" y2="348.20" stroke="#3d3d3d" stroke-width="1" />
<text x="25.30" y="350.75" font-size="7.2" text-anchor="end" fill="#1c1c1c" stroke="#1c1c1c" stroke-width="0.13" >100</text>
<line x1="29.70" y1="335.20" x2="28.10" y2="335.20" stroke="#3d3d3d" stroke-width="1" />
<line x1="29.70" y1="322.20" x2="27.10" y2="322.20" stroke="#3d3d3d" stroke-width="1" />
<text x="25.30" y="324.75" font-size="7.2" text-anchor="end" fill="#1c1c1c" stroke="#1c1c1c" stroke-width="0.13" >200</text>
<line x1="29.70" y1="309.20" x2="28.10" y2="309.20" stroke="#3d3d3d" stroke-width="1" />
<path d="M26.90 296.2 L32.50 293.6 M26.90 298.8 L32.50 296.2" stroke="#333" stroke-width="0.9" fill="none"/>
<path d="M199.30 296.2 L204.90 293.6 M199.30 298.8 L204.90 296.2" stroke="#333" stroke-width="0.9" fill="none"/>
<line x1="30.00" y1="374.20" x2="30.00" y2="376.80" stroke="#3d3d3d" stroke-width="1" />
<text x="30.00" y="383.90" font-size="7.2" text-anchor="middle" fill="#1c1c1c" stroke="#1c1c1c" stroke-width="0.13" >0</text>
<line x1="45.65" y1="374.20" x2="45.65" y2="375.80" stroke="#3d3d3d" stroke-width="1" />
<line x1="61.30" y1="374.20" x2="61.30" y2="376.80" stroke="#3d3d3d" stroke-width="1" />
<text x="60.30" y="383.90" font-size="7.2" text-anchor="middle" fill="#1c1c1c" stroke="#1c1c1c" stroke-width="0.13" >5000</text>
<line x1="76.95" y1="374.20" x2="76.95" y2="375.80" stroke="#3d3d3d" stroke-width="1" />
<line x1="92.60" y1="374.20" x2="92.60" y2="376.80" stroke="#3d3d3d" stroke-width="1" />
<text x="91.60" y="383.90" font-size="7.2" text-anchor="middle" fill="#1c1c1c" stroke="#1c1c1c" stroke-width="0.13" >10000</text>
<line x1="108.25" y1="374.20" x2="108.25" y2="375.80" stroke="#3d3d3d" stroke-width="1" />
<line x1="123.90" y1="374.20" x2="123.90" y2="376.80" stroke="#3d3d3d" stroke-width="1" />
<text x="122.90" y="383.90" font-size="7.2" text-anchor="middle" fill="#1c1c1c" stroke="#1c1c1c" stroke-width="0.13" >15000</text>
<line x1="139.55" y1="374.20" x2="139.55" y2="375.80" stroke="#3d3d3d" stroke-width="1" />
<line x1="155.20" y1="374.20" x2="155.20" y2="376.80" stroke="#3d3d3d" stroke-width="1" />
<text x="154.20" y="383.90" font-size="7.2" text-anchor="middle" fill="#1c1c1c" stroke="#1c1c1c" stroke-width="0.13" >20000</text>
<line x1="170.85" y1="374.20" x2="170.85" y2="375.80" stroke="#3d3d3d" stroke-width="1" />
<line x1="186.50" y1="374.20" x2="186.50" y2="376.80" stroke="#3d3d3d" stroke-width="1" />
<text x="185.50" y="383.90" font-size="7.2" text-anchor="middle" fill="#1c1c1c" stroke="#1c1c1c" stroke-width="0.13" >25000</text>
<line x1="202.15" y1="374.20" x2="202.15" y2="375.80" stroke="#3d3d3d" stroke-width="1" />
<text transform="translate(109.8,396.4) " font-size="8.9" text-anchor="middle" fill="#1c1c1c" stroke="#1c1c1c" stroke-width="0.13">WHSV <tspan letter-spacing="0.1">(mL·g</tspan><tspan letter-spacing="0.1" dy="-3.4" font-size="5.9">-1</tspan><tspan letter-spacing="0.1" dx="-5.45" dy="5.6" font-size="5.9">cat.</tspan><tspan letter-spacing="0.1" dy="-2.2" font-size="8.9">·h</tspan><tspan letter-spacing="0.1" dy="-3.4" font-size="5.9">-1</tspan><tspan dy="3.4" font-size="8.9">)</tspan></text>
<text transform="translate(9.05,297.75) rotate(-90) " font-size="9.1" text-anchor="middle" fill="#1c1c1c" stroke="#1c1c1c" stroke-width="0.13">STY of EtOH <tspan letter-spacing="0.3">(mg·g</tspan><tspan letter-spacing="0.3" dy="-3.4" font-size="5.9">-1</tspan><tspan letter-spacing="0.3" dx="-5.85" dy="5.6" font-size="5.9">cat.</tspan><tspan letter-spacing="0.3" dy="-2.2" font-size="9.1">·h</tspan><tspan letter-spacing="0.3" dy="-3.4" font-size="5.9">-1</tspan><tspan dy="3.4" font-size="9.1">)</tspan></text>
<text x="0.00" y="234.60" font-size="14.5" text-anchor="start" fill="#1c1c1c" stroke="#1c1c1c" stroke-width="0.13" >d</text>
<clipPath id="ce"><rect x="255.4" y="229.7" width="398.0" height="143.90000000000003"/></clipPath>
<g clip-path="url(#ce)">
<rect x="255.40" y="229.70" width="398.00" height="143.90" fill="#9abfe6" />
<path d="M254 245.2 L275 245.6 L300 243.8 L320 242.3 L340 243 L350 244.3 L365 245.6 L380 246 L400 246.4 L420 246.8 L445 248.6 L455 249.2 L490 249.4 L510 248 L530 246.6 L565 246 L610 245 L655 244 L655 375 L254 375 Z" fill="#ebaeb1"/>
<path d="M254 292.2 L270 291.8 L290 290.8 L300 290.2 L320 288.6 L340 289.5 L360 291.4 L380 292.5 L400 293.2 L420 294.2 L440 295.3 L455 296 L480 295 L500 294.2 L520 293.3 L540 292.5 L560 291.8 L580 291 L600 290.2 L620 289.6 L640 289.2 L655 288.8 L655 375 L254 375 Z" fill="#d3d3d3"/>
<path d="M255.68 250 L276.60 255.6 L318.43 247.4 L360.26 253.6 L402.10 249 L443.93 256.6 L485.76 256.4 L527.59 254.6 L569.42 255 L611.26 256 L653.09 247" fill="none" stroke="#5a5a5a" stroke-width="0.9"/>
<path d="M255.68 304 L276.60 305.7 L318.43 302.5 L360.26 304.8 L402.10 302.5 L443.93 306.9 L485.76 306.3 L527.59 305.4 L569.42 305.7 L611.26 306.3 L653.09 302.8" fill="none" stroke="#5a5a5a" stroke-width="0.9"/>
<path d="M255.68 368.7 L276.60 369 L318.43 369.3 L360.26 368.1 L402.10 369 L443.93 368.1 L485.76 368.9 L527.59 368.5 L569.42 368.9 L611.26 368 L653.09 368.9" fill="none" stroke="#5a5a5a" stroke-width="0.9"/>
<path d="M255.68 246.70L258.98 250.00L255.68 253.30L252.38 250.00Z" fill="#fff" stroke="#7c7c7c" stroke-width="0.8"/>
<path d="M276.60 252.30L279.90 255.60L276.60 258.90L273.30 255.60Z" fill="#fff" stroke="#7c7c7c" stroke-width="0.8"/>
<path d="M318.43 244.10L321.73 247.40L318.43 250.70L315.13 247.40Z" fill="#fff" stroke="#7c7c7c" stroke-width="0.8"/>
<path d="M360.26 250.30L363.56 253.60L360.26 256.90L356.96 253.60Z" fill="#fff" stroke="#7c7c7c" stroke-width="0.8"/>
<path d="M402.10 245.70L405.40 249.00L402.10 252.30L398.80 249.00Z" fill="#fff" stroke="#7c7c7c" stroke-width="0.8"/>
<path d="M443.93 253.30L447.23 256.60L443.93 259.90L440.63 256.60Z" fill="#fff" stroke="#7c7c7c" stroke-width="0.8"/>
<path d="M485.76 253.10L489.06 256.40L485.76 259.70L482.46 256.40Z" fill="#fff" stroke="#7c7c7c" stroke-width="0.8"/>
<path d="M527.59 251.30L530.89 254.60L527.59 257.90L524.29 254.60Z" fill="#fff" stroke="#7c7c7c" stroke-width="0.8"/>
<path d="M569.42 251.70L572.72 255.00L569.42 258.30L566.12 255.00Z" fill="#fff" stroke="#7c7c7c" stroke-width="0.8"/>
<path d="M611.26 252.70L614.56 256.00L611.26 259.30L607.96 256.00Z" fill="#fff" stroke="#7c7c7c" stroke-width="0.8"/>
<path d="M653.09 243.70L656.39 247.00L653.09 250.30L649.79 247.00Z" fill="#fff" stroke="#7c7c7c" stroke-width="0.8"/>
<rect x="253.48" y="301.80" width="4.4" height="4.4" fill="#fff" stroke="#7c7c7c" stroke-width="0.8"/>
<rect x="274.40" y="303.50" width="4.4" height="4.4" fill="#fff" stroke="#7c7c7c" stroke-width="0.8"/>
<rect x="316.23" y="300.30" width="4.4" height="4.4" fill="#fff" stroke="#7c7c7c" stroke-width="0.8"/>
<rect x="358.06" y="302.60" width="4.4" height="4.4" fill="#fff" stroke="#7c7c7c" stroke-width="0.8"/>
<rect x="399.90" y="300.30" width="4.4" height="4.4" fill="#fff" stroke="#7c7c7c" stroke-width="0.8"/>
<rect x="441.73" y="304.70" width="4.4" height="4.4" fill="#fff" stroke="#7c7c7c" stroke-width="0.8"/>
<rect x="483.56" y="304.10" width="4.4" height="4.4" fill="#fff" stroke="#7c7c7c" stroke-width="0.8"/>
<rect x="525.39" y="303.20" width="4.4" height="4.4" fill="#fff" stroke="#7c7c7c" stroke-width="0.8"/>
<rect x="567.22" y="303.50" width="4.4" height="4.4" fill="#fff" stroke="#7c7c7c" stroke-width="0.8"/>
<rect x="609.06" y="304.10" width="4.4" height="4.4" fill="#fff" stroke="#7c7c7c" stroke-width="0.8"/>
<rect x="650.89" y="300.60" width="4.4" height="4.4" fill="#fff" stroke="#7c7c7c" stroke-width="0.8"/>
<circle cx="255.68" cy="368.70" r="2.5" fill="#fff" stroke="#7c7c7c" stroke-width="0.8"/>
<circle cx="276.60" cy="369.00" r="2.5" fill="#fff" stroke="#7c7c7c" stroke-width="0.8"/>
<circle cx="318.43" cy="369.30" r="2.5" fill="#fff" stroke="#7c7c7c" stroke-width="0.8"/>
<circle cx="360.26" cy="368.10" r="2.5" fill="#fff" stroke="#7c7c7c" stroke-width="0.8"/>
<circle cx="402.10" cy="369.00" r="2.5" fill="#fff" stroke="#7c7c7c" stroke-width="0.8"/>
<circle cx="443.93" cy="368.10" r="2.5" fill="#fff" stroke="#7c7c7c" stroke-width="0.8"/>
<circle cx="485.76" cy="368.90" r="2.5" fill="#fff" stroke="#7c7c7c" stroke-width="0.8"/>
<circle cx="527.59" cy="368.50" r="2.5" fill="#fff" stroke="#7c7c7c" stroke-width="0.8"/>
<circle cx="569.42" cy="368.90" r="2.5" fill="#fff" stroke="#7c7c7c" stroke-width="0.8"/>
<circle cx="611.26" cy="368.00" r="2.5" fill="#fff" stroke="#7c7c7c" stroke-width="0.8"/>
<circle cx="653.09" cy="368.90" r="2.5" fill="#fff" stroke="#7c7c7c" stroke-width="0.8"/>
</g>
<line x1="261.00" y1="373.00" x2="304.60" y2="373.00" stroke="#e07a7a" stroke-width="0.9" />
<line x1="383.50" y1="373.00" x2="414.00" y2="373.00" stroke="#e07a7a" stroke-width="0.9" />
<line x1="496.00" y1="373.00" x2="523.60" y2="373.00" stroke="#e07a7a" stroke-width="0.9" />
<line x1="532.40" y1="373.00" x2="552.80" y2="373.00" stroke="#e07a7a" stroke-width="0.9" />
<line x1="255.40" y1="229.70" x2="653.40" y2="229.70" stroke="#777" stroke-width="1.0" />
<line x1="255.40" y1="229.70" x2="255.40" y2="373.60" stroke="#7a7a7a" stroke-width="1.4" />
<line x1="653.40" y1="229.70" x2="653.40" y2="373.60" stroke="#3d3d3d" stroke-width="1.0" />
<line x1="254.90" y1="373.60" x2="653.90" y2="373.60" stroke="#3d3d3d" stroke-width="1.0" />
<line x1="255.40" y1="373.60" x2="252.80" y2="373.60" stroke="#3d3d3d" stroke-width="1" />
<text x="251.00" y="376.15" font-size="7.2" text-anchor="end" fill="#1c1c1c" stroke="#1c1c1c" stroke-width="0.13" >0</text>
<line x1="255.40" y1="359.21" x2="253.80" y2="359.21" stroke="#3d3d3d" stroke-width="1" />
<line x1="255.40" y1="344.82" x2="252.80" y2="344.82" stroke="#3d3d3d" stroke-width="1" />
<text x="251.00" y="347.37" font-size="7.2" text-anchor="end" fill="#1c1c1c" stroke="#1c1c1c" stroke-width="0.13" >20</text>
<line x1="255.40" y1="330.43" x2="253.80" y2="330.43" stroke="#3d3d3d" stroke-width="1" />
<line x1="255.40" y1="316.04" x2="252.80" y2="316.04" stroke="#3d3d3d" stroke-width="1" />
<text x="251.00" y="318.59" font-size="7.2" text-anchor="end" fill="#1c1c1c" stroke="#1c1c1c" stroke-width="0.13" >40</text>
<line x1="255.40" y1="301.65" x2="253.80" y2="301.65" stroke="#3d3d3d" stroke-width="1" />
<line x1="255.40" y1="287.26" x2="252.80" y2="287.26" stroke="#3d3d3d" stroke-width="1" />
<text x="251.00" y="289.81" font-size="7.2" text-anchor="end" fill="#1c1c1c" stroke="#1c1c1c" stroke-width="0.13" >60</text>
<line x1="255.40" y1="272.87" x2="253.80" y2="272.87" stroke="#3d3d3d" stroke-width="1" />
<line x1="255.40" y1="258.48" x2="252.80" y2="258.48" stroke="#3d3d3d" stroke-width="1" />
<text x="251.00" y="261.03" font-size="7.2" text-anchor="end" fill="#1c1c1c" stroke="#1c1c1c" stroke-width="0.13" >80</text>
<line x1="255.40" y1="244.09" x2="253.80" y2="244.09" stroke="#3d3d3d" stroke-width="1" />
<line x1="255.40" y1="229.70" x2="252.80" y2="229.70" stroke="#3d3d3d" stroke-width="1" />
<text x="251.00" y="232.25" font-size="7.2" text-anchor="end" fill="#1c1c1c" stroke="#1c1c1c" stroke-width="0.13" >100</text>
<line x1="653.40" y1="373.60" x2="656.00" y2="373.60" stroke="#3d3d3d" stroke-width="1" />
<text x="658.30" y="376.15" font-size="7.2" text-anchor="start" fill="#1c1c1c" stroke="#1c1c1c" stroke-width="0.13" >0</text>
<line x1="653.40" y1="359.21" x2="655.00" y2="359.21" stroke="#3d3d3d" stroke-width="1" />
<line x1="653.40" y1="344.82" x2="656.00" y2="344.82" stroke="#3d3d3d" stroke-width="1" />
<text x="658.30" y="347.37" font-size="7.2" text-anchor="start" fill="#1c1c1c" stroke="#1c1c1c" stroke-width="0.13" >200</text>
<line x1="653.40" y1="330.43" x2="655.00" y2="330.43" stroke="#3d3d3d" stroke-width="1" />
<line x1="653.40" y1="316.04" x2="656.00" y2="316.04" stroke="#3d3d3d" stroke-width="1" />
<text x="658.30" y="318.59" font-size="7.2" text-anchor="start" fill="#1c1c1c" stroke="#1c1c1c" stroke-width="0.13" >400</text>
<line x1="653.40" y1="301.65" x2="655.00" y2="301.65" stroke="#3d3d3d" stroke-width="1" />
<line x1="653.40" y1="287.26" x2="656.00" y2="287.26" stroke="#3d3d3d" stroke-width="1" />
<text x="658.30" y="289.81" font-size="7.2" text-anchor="start" fill="#1c1c1c" stroke="#1c1c1c" stroke-width="0.13" >600</text>
<line x1="653.40" y1="272.87" x2="655.00" y2="272.87" stroke="#3d3d3d" stroke-width="1" />
<line x1="653.40" y1="258.48" x2="656.00" y2="258.48" stroke="#3d3d3d" stroke-width="1" />
<text x="658.30" y="261.03" font-size="7.2" text-anchor="start" fill="#1c1c1c" stroke="#1c1c1c" stroke-width="0.13" >800</text>
<line x1="653.40" y1="244.09" x2="655.00" y2="244.09" stroke="#3d3d3d" stroke-width="1" />
<line x1="653.40" y1="229.70" x2="656.00" y2="229.70" stroke="#3d3d3d" stroke-width="1" />
<text x="658.30" y="232.25" font-size="7.2" text-anchor="start" fill="#1c1c1c" stroke="#1c1c1c" stroke-width="0.13" >1000</text>
<line x1="255.68" y1="373.60" x2="255.68" y2="375.20" stroke="#3d3d3d" stroke-width="1" />
<line x1="276.60" y1="373.60" x2="276.60" y2="376.20" stroke="#3d3d3d" stroke-width="1" />
<text x="276.60" y="384.80" font-size="7.2" text-anchor="middle" fill="#1c1c1c" stroke="#1c1c1c" stroke-width="0.13" >12</text>
<line x1="297.52" y1="373.60" x2="297.52" y2="375.20" stroke="#3d3d3d" stroke-width="1" />
<line x1="318.43" y1="373.60" x2="318.43" y2="376.20" stroke="#3d3d3d" stroke-width="1" />
<text x="318.43" y="384.80" font-size="7.2" text-anchor="middle" fill="#1c1c1c" stroke="#1c1c1c" stroke-width="0.13" >24</text>
<line x1="339.35" y1="373.60" x2="339.35" y2="375.20" stroke="#3d3d3d" stroke-width="1" />
<line x1="360.26" y1="373.60" x2="360.26" y2="376.20" stroke="#3d3d3d" stroke-width="1" />
<text x="360.26" y="384.80" font-size="7.2" text-anchor="middle" fill="#1c1c1c" stroke="#1c1c1c" stroke-width="0.13" >36</text>
<line x1="381.18" y1="373.60" x2="381.18" y2="375.20" stroke="#3d3d3d" stroke-width="1" />
<line x1="402.10" y1="373.60" x2="402.10" y2="376.20" stroke="#3d3d3d" stroke-width="1" />
<text x="402.10" y="384.80" font-size="7.2" text-anchor="middle" fill="#1c1c1c" stroke="#1c1c1c" stroke-width="0.13" >48</text>
<line x1="423.01" y1="373.60" x2="423.01" y2="375.20" stroke="#3d3d3d" stroke-width="1" />
<line x1="443.93" y1="373.60" x2="443.93" y2="376.20" stroke="#3d3d3d" stroke-width="1" />
<text x="443.93" y="384.80" font-size="7.2" text-anchor="middle" fill="#1c1c1c" stroke="#1c1c1c" stroke-width="0.13" >60</text>
<line x1="464.84" y1="373.60" x2="464.84" y2="375.20" stroke="#3d3d3d" stroke-width="1" />
<line x1="485.76" y1="373.60" x2="485.76" y2="376.20" stroke="#3d3d3d" stroke-width="1" />
<text x="485.76" y="384.80" font-size="7.2" text-anchor="middle" fill="#1c1c1c" stroke="#1c1c1c" stroke-width="0.13" >72</text>
<line x1="506.68" y1="373.60" x2="506.68" y2="375.20" stroke="#3d3d3d" stroke-width="1" />
<line x1="527.59" y1="373.60" x2="527.59" y2="376.20" stroke="#3d3d3d" stroke-width="1" />
<text x="527.59" y="384.80" font-size="7.2" text-anchor="middle" fill="#1c1c1c" stroke="#1c1c1c" stroke-width="0.13" >84</text>
<line x1="548.51" y1="373.60" x2="548.51" y2="375.20" stroke="#3d3d3d" stroke-width="1" />
<line x1="569.42" y1="373.60" x2="569.42" y2="376.20" stroke="#3d3d3d" stroke-width="1" />
<text x="569.42" y="384.80" font-size="7.2" text-anchor="middle" fill="#1c1c1c" stroke="#1c1c1c" stroke-width="0.13" >96</text>
<line x1="590.34" y1="373.60" x2="590.34" y2="375.20" stroke="#3d3d3d" stroke-width="1" />
<line x1="611.26" y1="373.60" x2="611.26" y2="376.20" stroke="#3d3d3d" stroke-width="1" />
<text x="611.26" y="384.80" font-size="7.2" text-anchor="middle" fill="#1c1c1c" stroke="#1c1c1c" stroke-width="0.13" >108</text>
<line x1="632.17" y1="373.60" x2="632.17" y2="375.20" stroke="#3d3d3d" stroke-width="1" />
<line x1="653.09" y1="373.60" x2="653.09" y2="376.20" stroke="#3d3d3d" stroke-width="1" />
<text x="653.09" y="384.80" font-size="7.2" text-anchor="middle" fill="#1c1c1c" stroke="#1c1c1c" stroke-width="0.13" >120</text>
<text transform="translate(452.3,397.6) " font-size="8.9" text-anchor="middle" fill="#1c1c1c" stroke="#1c1c1c" stroke-width="0.13">Time on stream (h)</text>
<text x="259.20" y="242.80" font-size="7.3" text-anchor="start" fill="#ffffff" stroke="#ffffff" stroke-width="0" >Others</text>
<text x="259.20" y="288.40" font-size="7.3" text-anchor="start" fill="#ffffff" stroke="#ffffff" stroke-width="0" >EtOH</text>
<text x="259.00" y="360.40" font-size="7.2" text-anchor="start" fill="#ffffff" stroke="#ffffff" stroke-width="0" >Hydrocarbon</text>
<text x="623.20" y="270.00" font-size="7.2" text-anchor="middle" fill="#1c1c1c" stroke="#1c1c1c" stroke-width="0.13" >STY of EtOH</text>
<text x="610.70" y="302.40" font-size="7.2" text-anchor="middle" fill="#1c1c1c" stroke="#1c1c1c" stroke-width="0.13" >CO<tspan dy="1.8" font-size="4.8">2</tspan><tspan dy="-1.8"> Conv.</tspan></text>
<text x="617.70" y="363.60" font-size="7.2" text-anchor="middle" fill="#1c1c1c" stroke="#1c1c1c" stroke-width="0.13" >CO Sel.</text>
<path d="M627.7 254.2 Q636.5 262.6 648.8 258.5" fill="none" stroke="#151515" stroke-width="1.5" stroke-linecap="round"/>
<path d="M644.6 256.3 L649.2 258.4 L647.5 262.5" fill="none" stroke="#151515" stroke-width="1.5" stroke-linecap="round" stroke-linejoin="round"/>
<path d="M649.8 300.8 Q641 292.2 630.3 296.7" fill="none" stroke="#151515" stroke-width="1.5" stroke-linecap="round"/>
<path d="M632.0 293.6 L629.9 296.8 L634.4 299.3" fill="none" stroke="#151515" stroke-width="1.5" stroke-linecap="round" stroke-linejoin="round"/>
<path d="M651.8 364.0 Q643 355.2 632.5 360.1" fill="none" stroke="#151515" stroke-width="1.5" stroke-linecap="round"/>
<path d="M633.9 356.6 L632.1 360.2 L636.1 362.4" fill="none" stroke="#151515" stroke-width="1.5" stroke-linecap="round" stroke-linejoin="round"/>
<text transform="translate(225.8,300.75) rotate(-90) " font-size="9.1" text-anchor="middle" fill="#1c1c1c" stroke="#1c1c1c" stroke-width="0.13">CO<tspan dy="2" font-size="5.6">2</tspan><tspan dy="-2"> Conv. &amp; CO Sel. &amp;</tspan></text>
<text transform="translate(236.55,300.5) rotate(-90) " font-size="9.1" text-anchor="middle" fill="#1c1c1c" stroke="#1c1c1c" stroke-width="0.13">Product distribution (%)</text>
<text transform="translate(682.8,304.25) rotate(-90) " font-size="9.1" text-anchor="middle" fill="#1c1c1c" stroke="#1c1c1c" stroke-width="0.13">STY of EtOH <tspan letter-spacing="0.3">(mg·g</tspan><tspan letter-spacing="0.3" dy="-3.4" font-size="5.9">-1</tspan><tspan letter-spacing="0.3" dx="-5.85" dy="5.6" font-size="5.9">cat.</tspan><tspan letter-spacing="0.3" dy="-2.2" font-size="9.1">·h</tspan><tspan letter-spacing="0.3" dy="-3.4" font-size="5.9">-1</tspan><tspan dy="3.4" font-size="9.1">)</tspan></text>
<text x="226.80" y="234.80" font-size="14.5" text-anchor="start" fill="#1c1c1c" stroke="#1c1c1c" stroke-width="0.13" >e</text>
</svg></body></html>
